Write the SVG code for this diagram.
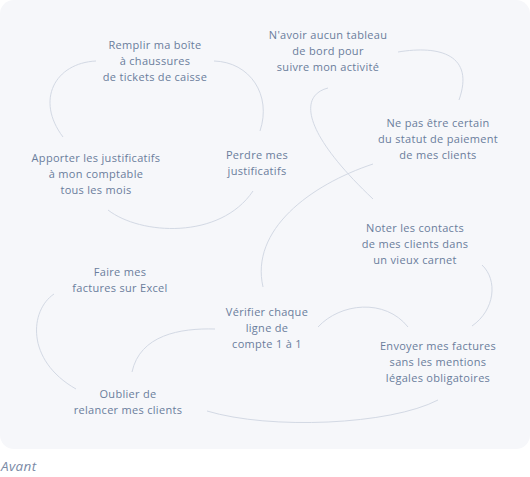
<svg xmlns="http://www.w3.org/2000/svg" width="530" height="477" viewBox="0 0 530 477">
<style>
.t{font-family:"Open Sans","Noto Sans",sans-serif;font-size:11px;letter-spacing:0.3px;fill:#6a7d9c;text-anchor:middle}
.c{fill:none;stroke:#d3d9e4;stroke-width:1}
</style>
<rect x="0" y="0" width="530" height="477" fill="#ffffff"/>
<rect x="0" y="0" width="530" height="449" rx="14" fill="#f6f7fa"/>
<g id="connectors">
<path class="c" d="M96,61 C55,63 35,100 63,137"/>
<path class="c" d="M214,61 C250,62 272,95 260,131"/>
<path class="c" d="M108,210 C140,235 220,240 253,191"/>
<path class="c" d="M398,52 C440,45 475,55 459,100"/>
<path class="c" d="M328,88 C300,95 300,130 373,199"/>
<path class="c" d="M373,164 C310,185 250,230 263,287"/>
<path class="c" d="M482,265 C498,280 495,310 472,326"/>
<path class="c" d="M318,327 C340,303 385,298 408,327"/>
<path class="c" d="M438,400 C390,425 270,430 207,411"/>
<path class="c" d="M54,294 C30,310 25,360 76,389"/>
<path class="c" d="M132,372 C140,335 180,328 215,329"/>
</g>
<g id="n1"><text class="t" x="155" y="49">Remplir ma boîte</text><text class="t" x="155" y="65">à chaussures</text><text class="t" x="155" y="81">de tickets de caisse</text></g>
<g id="n2"><text class="t" x="96" y="162">Apporter les justificatifs</text><text class="t" x="96" y="178">à mon comptable</text><text class="t" x="96" y="194">tous les mois</text></g>
<g id="n3"><text class="t" x="257" y="159">Perdre mes</text><text class="t" x="257" y="175">justificatifs</text></g>
<g id="n4"><text class="t" x="328" y="39">N'avoir aucun tableau</text><text class="t" x="328" y="55">de bord pour</text><text class="t" x="328" y="71">suivre mon activité</text></g>
<g id="n5"><text class="t" x="438" y="127">Ne pas être certain</text><text class="t" x="438" y="143">du statut de paiement</text><text class="t" x="438" y="159">de mes clients</text></g>
<g id="n6"><text class="t" x="415" y="232">Noter les contacts</text><text class="t" x="415" y="248">de mes clients dans</text><text class="t" x="415" y="264">un vieux carnet</text></g>
<g id="n7"><text class="t" x="120" y="276">Faire mes</text><text class="t" x="120" y="292">factures sur Excel</text></g>
<g id="n8"><text class="t" x="267" y="316">Vérifier chaque</text><text class="t" x="267" y="332">ligne de</text><text class="t" x="267" y="348">compte 1 à 1</text></g>
<g id="n9"><text class="t" x="438" y="350">Envoyer mes factures</text><text class="t" x="438" y="366">sans les mentions</text><text class="t" x="438" y="382">légales obligatoires</text></g>
<g id="n10"><text class="t" x="128" y="398">Oublier de</text><text class="t" x="128" y="414">relancer mes clients</text></g>
<text x="1" y="471" style="font-family:'Open Sans','Noto Sans',sans-serif;font-size:13.5px;font-style:italic;letter-spacing:0.4px;fill:#7a8aa6">Avant</text>
</svg>
